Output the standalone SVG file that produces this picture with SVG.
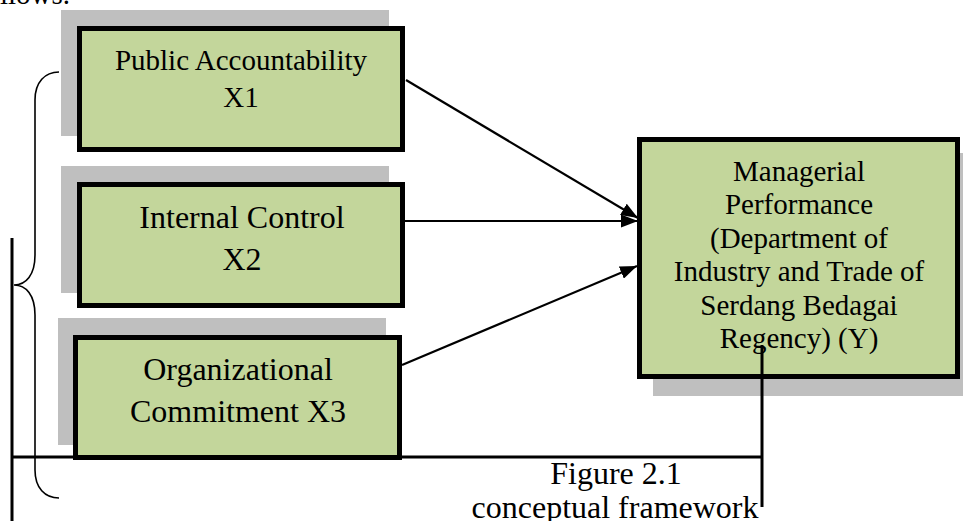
<svg xmlns="http://www.w3.org/2000/svg" width="963" height="521" viewBox="0 0 963 521">
<style>
.shadow{fill:#BFBFBF}
.box{fill:#C3D69B;stroke:#000;stroke-width:5}
.t{font-family:"Liberation Serif","Times New Roman",serif;fill:#000;text-anchor:middle}
.conn{stroke:#000;stroke-width:2.2;fill:none}
.rule{stroke:#000;stroke-width:3;fill:none}
</style>
<defs>
<marker id="ah" markerUnits="userSpaceOnUse" markerWidth="17" markerHeight="13" refX="17" refY="6.5" orient="auto">
<path d="M0,0 L17,6.5 L0,13 z" fill="#000"/>
</marker>
</defs>
<rect width="963" height="521" fill="#fff"/>
<text x="0" y="4" font-family="Liberation Serif, serif" font-size="29" fill="#000">llows.</text>

<g id="brace">
<path d="M59,72 C45,72 35,82 35,100 L35,255 C35,275 26,285 14,285 C26,285 35,295 35,315 L35,470 C35,488 45,498 59,498" stroke="#000" stroke-width="1.6" fill="none"/>
</g>

<g id="frame-lines">
<line class="rule" x1="12" y1="238" x2="12" y2="521"/>
<line class="rule" x1="12" y1="457" x2="763" y2="457"/>
</g>

<g id="x1">
<rect class="shadow" x="61" y="10" width="328" height="126"/>
<rect class="box" x="79.5" y="28.5" width="323" height="121"/>
<text class="t" font-size="29" x="241" y="70">Public Accountability</text>
<text class="t" font-size="29" x="241" y="107">X1</text>
</g>

<g id="x2">
<rect class="shadow" x="61" y="166" width="328" height="127"/>
<rect class="box" x="79.5" y="184.5" width="323" height="121"/>
<text class="t" font-size="32" x="242" y="228">Internal Control</text>
<text class="t" font-size="32" x="242" y="270">X2</text>
</g>

<g id="x3">
<rect class="shadow" x="58" y="318" width="328" height="127"/>
<rect class="box" x="75.5" y="337.5" width="324" height="120"/>
<text class="t" font-size="32" x="238" y="380">Organizational</text>
<text class="t" font-size="32" x="238" y="422">Commitment X3</text>
</g>

<g id="y">
<rect class="shadow" x="653" y="153" width="324" height="243"/>
<rect class="box" x="639.5" y="139.5" width="318" height="237"/>
<text class="t" font-size="29" x="799" y="180.5">Managerial</text>
<text class="t" font-size="29" x="799" y="214">Performance</text>
<text class="t" font-size="29" x="799" y="247.5">(Department of</text>
<text class="t" font-size="29" x="799" y="281">Industry and Trade of</text>
<text class="t" font-size="29" x="799" y="314.5">Serdang Bedagai</text>
<text class="t" font-size="29" x="799" y="348">Regency) (Y)</text>
</g>

<g id="connectors">
<line class="conn" x1="406" y1="80" x2="638" y2="218" marker-end="url(#ah)"/>
<line class="conn" x1="405" y1="221" x2="638" y2="221" marker-end="url(#ah)"/>
<line class="conn" x1="402" y1="365" x2="637" y2="266" marker-end="url(#ah)"/>
</g>

<g id="right-rule">
<line class="rule" x1="762" y1="345" x2="762" y2="507"/>
</g>

<g id="caption">
<text class="t" font-size="32" x="616" y="484">Figure 2.1</text>
<text class="t" font-size="32" x="615" y="518">conceptual framework</text>
</g>
</svg>
